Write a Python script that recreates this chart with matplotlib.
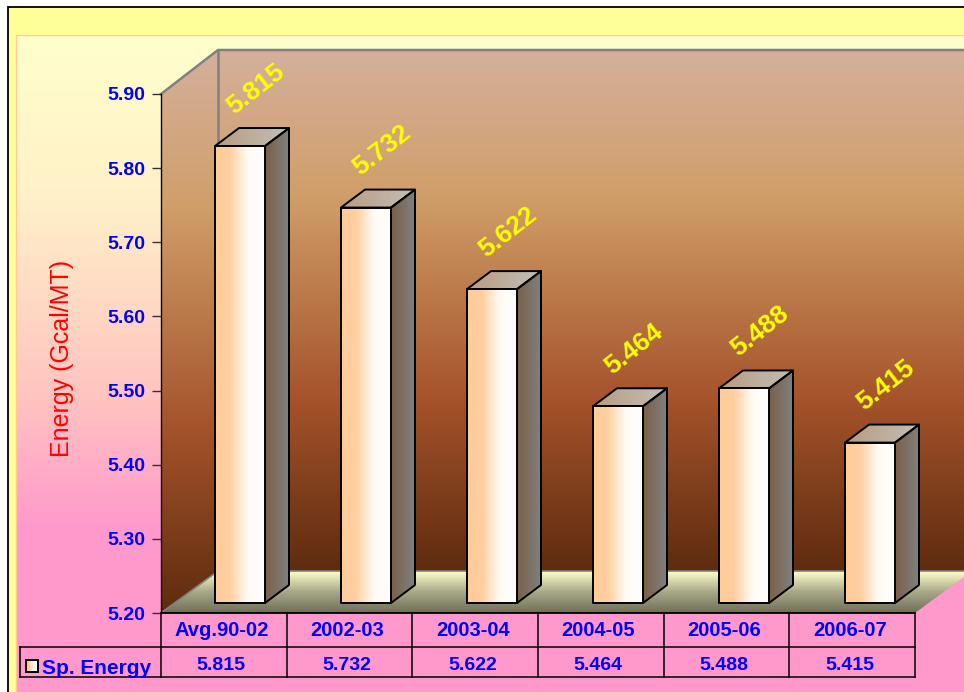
import numpy as np
import matplotlib
matplotlib.use("Agg")
import matplotlib.pyplot as plt
from matplotlib.colors import LinearSegmentedColormap
from matplotlib.patches import Polygon, Rectangle

plt.rcParams['font.family'] = ['Liberation Sans', 'DejaVu Sans']

# Data
categories = ['Avg.90-02', '2002-03', '2003-04', '2004-05', '2005-06', '2006-07']
energy = [5.815, 5.732, 5.622, 5.464, 5.488, 5.415]
yticks = [5.20, 5.30, 5.40, 5.50, 5.60, 5.70, 5.80, 5.90]
series_name = 'Sp. Energy'
ylabel = 'Energy (Gcal/MT)'

W, H = 964, 692
BLUE = '#0000FF'


def cmap(*colors):
    return LinearSegmentedColormap.from_list('c', list(colors))


def grad(vertical=True):
    g = np.linspace(0, 1, 256)
    return g[:, None] if vertical else g[None, :]


fig = plt.figure(figsize=(W / 100, H / 100), dpi=100, facecolor='white')

# page background, in pixels
bg = fig.add_axes([0, 0, 1, 1], zorder=0)
bg.set_xlim(0, W)
bg.set_ylim(H, 0)
bg.axis('off')
bg.add_patch(Rectangle((8, 7), W, H, fc='#FFFF99', ec='black', lw=1.3))
panel = cmap((0, '#FFFFCC'), (0.25, '#FFF0C8'), (0.55, '#FFC4C0'), (0.75, '#FF99CC'), (1, '#FF99CC'))
bg.imshow(grad(), extent=(16, W, H, 35), cmap=panel, aspect='auto', zorder=1)
bg.plot([16, 16, W], [H, 35, 35], color='#FFCC99', lw=1, zorder=2)
bg.set_xlim(0, W)
bg.set_ylim(H, 0)

# main axes is the front plane of the 3d box
L, R, T, B = 161, 917, 94, 613
TABLE_R = 915
ax = fig.add_axes([L / W, 1 - B / H, (R - L) / W, (B - T) / H], zorder=2)
ax.patch.set_alpha(0)
n = len(categories)
xlim = (-0.5, n - 0.5)
ylim = (yticks[0], yticks[-1])
sx = n / (R - L)
sy = (ylim[1] - ylim[0]) / (B - T)
X = lambda p: xlim[0] + (p - L) * sx
Y = lambda p: ylim[0] + (B - p) * sy


def image_poly(verts, cm, vertical=True, extent=None, z=1, edge=None, lw=1.4):
    xs, ys = zip(*verts)
    ext = extent or (min(xs), max(xs), min(ys), max(ys))
    im = ax.imshow(grad(vertical), extent=ext, origin='lower', cmap=cm, aspect='auto', zorder=z)
    p = Polygon(verts, transform=ax.transData, fc='none', ec='none', clip_on=False)
    ax.add_patch(p)
    im.set_clip_box(fig.bbox)
    im.set_clip_path(p)
    if edge:
        ax.add_patch(Polygon(verts, fc='none', ec=edge, lw=lw, zorder=z + 0.1, clip_on=False, joinstyle='round'))


# walls and floor
wall = cmap((0, '#5E2C0F'), (0.33, '#A5532B'), (0.72, '#D09E68'), (1, '#D4B09C'))
wx, wtop, wbot = X(218), Y(50), Y(571)
wall_ext = (X(161), X(W + 5), wbot, wtop)
image_poly([(wx, wbot), (X(W + 5), wbot), (X(W + 5), wtop), (wx, wtop)], wall, extent=wall_ext, z=1)
image_poly([(X(161), Y(613)), (wx, wbot), (wx, wtop), (X(161), Y(94))], wall,
           extent=(X(161), X(W + 5), Y(613), wtop), z=1)
floor = cmap('#6E6E58', '#A8A888', '#FFFFCC')
image_poly([(X(161), Y(613)), (X(915), Y(613)), (X(972), Y(571)), (wx, wbot)], floor,
           extent=(X(161), X(W + 8), Y(613), wbot), z=1.2)
GRAY = '#808080'
ax.plot([X(161), wx, X(W + 5)], [Y(94), wtop, wtop], color=GRAY, lw=1.8, zorder=1.5, clip_on=False)
ax.plot([wx, wx], [wtop, wbot], color=GRAY, lw=1.8, zorder=1.5, clip_on=False)
ax.plot([X(161), wx, X(W + 5)], [Y(613), wbot, wbot], color=GRAY, lw=1.2, zorder=1.5, clip_on=False)

# bars
front = cmap((0, '#FFCC99'), (0.3, '#FFCFA0'), (0.65, '#FFFAF5'), (1, '#FFFFFF'))
top_c = cmap('#B89C80', '#C4BEB6')
side = cmap('#7A6048', '#808080')
dx, dy = 24 * sx, 18 * sy          # bar depth
ox, oy = 16 * sx, 11 * sy          # inset from the front plane
bw = 50 * sx
base = ylim[0] + 10 * sy
for i, v in enumerate(energy):
    x0, x1 = i - bw / 2 + ox, i + bw / 2 + ox
    y1 = v + oy
    image_poly([(x1, base), (x1 + dx, base + dy), (x1 + dx, y1 + dy), (x1, y1)], side, vertical=False,
               z=3, edge='black')
    image_poly([(x0, y1), (x1, y1), (x1 + dx, y1 + dy), (x0 + dx, y1 + dy)], top_c, vertical=False,
               z=3, edge='black')
    image_poly([(x0, base), (x1, base), (x1, y1), (x0, y1)], front, vertical=False, z=3.5, edge='black')
    ax.text(x0 + 41 * sx, y1 + 57 * sy, f'{v:.3f}', color='#FFFF00', fontsize=19, fontweight='bold',
            rotation=38, rotation_mode='anchor', ha='center', va='center', zorder=5, clip_on=False)

ax.set_xlim(xlim)
ax.set_ylim(ylim)
ax.set_xticks([])
ax.set_yticks(yticks)
ax.set_yticklabels([f'{t:.2f}' for t in yticks], color=BLUE, fontsize=14, fontweight='bold')
ax.tick_params(axis='y', length=6.5, width=1, color='#333333', pad=5)
for s in ('top', 'right', 'bottom'):
    ax.spines[s].set_visible(False)
ax.spines['left'].set_linewidth(1)
ax.spines['left'].set_zorder(2)

# data table under the chart
fig.text(62 / W, 1 - 358 / H, ylabel, color='#FF0000', fontsize=18, rotation=90, ha='center', va='center',
         family=['Liberation Sans Narrow', 'Liberation Sans'], zorder=6)
edges = [L + (TABLE_R - L) * i / n for i in range(n + 1)]
tb = fig.add_axes([0, 0, 1, 1], zorder=3)
tb.set_xlim(0, W)
tb.set_ylim(H, 0)
tb.axis('off')
tb.plot([L, TABLE_R], [613, 613], color='black', lw=1.3)
tb.plot([20, TABLE_R], [647, 647], color='black', lw=1.1)
tb.plot([20, TABLE_R], [677, 677], color='black', lw=1.1)
tb.plot([20, 20], [647, 677], color='black', lw=1.1)
for e in edges:
    tb.plot([e, e], [613, 677], color='black', lw=1.1)
for i, (c, v) in enumerate(zip(categories, energy)):
    xc = (edges[i] + edges[i + 1]) / 2 - 2.5
    tb.text(xc, 631, c, color=BLUE, fontsize=14.5, fontweight='bold', ha='center', va='center')
    tb.text(xc, 666, f'{v:.3f}', color=BLUE, fontsize=14, fontweight='bold', ha='center', va='center')
tb.imshow(grad(False), extent=(26, 38, 672, 660), cmap=front, aspect='auto')
tb.add_patch(Rectangle((26, 660), 12, 12, fc='none', ec='black', lw=1.4))
tb.set_xlim(0, W)
tb.set_ylim(H, 0)
leg = tb.text(42, 668, series_name, color=BLUE, fontsize=15, fontweight='bold', ha='left', va='center')
leg.set_clip_path(Rectangle((20, 647), 141, 29, transform=tb.transData))

fig.savefig('out.png', dpi=100)
